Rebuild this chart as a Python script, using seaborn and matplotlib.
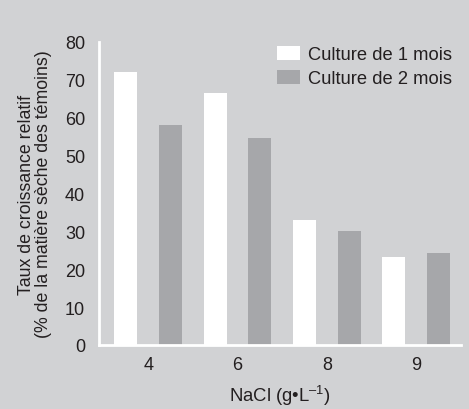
import pandas as pd
import matplotlib
matplotlib.use('Agg')
import matplotlib.pyplot as plt
import seaborn as sns

# Values
nacl = ["4", "6", "8", "9"]
culture_1_mois = [72.0, 66.5, 33.0, 23.2]
culture_2_mois = [58.0, 54.7, 30.1, 24.3]
series_names = ["Culture de 1 mois", "Culture de 2 mois"]
y_ticks = [0, 10, 20, 30, 40, 50, 60, 70, 80]

BG = "#d1d2d4"
GREY = "#a6a7aa"
TEXT = "#231f20"

df = pd.DataFrame({
    "NaCl": nacl * 2,
    "taux": culture_1_mois + culture_2_mois,
    "culture": [series_names[0]] * len(nacl) + [series_names[1]] * len(nacl),
})

sns.set_style("white")
plt.rcParams['font.family'] = ['Liberation Sans', 'DejaVu Sans']
plt.rcParams['mathtext.fontset'] = 'custom'
plt.rcParams['mathtext.rm'] = 'Liberation Sans'
plt.rcParams['text.color'] = TEXT

fig = plt.figure(figsize=(4.69, 4.10), dpi=100)
fig.patch.set_facecolor(BG)
ax = fig.add_axes([99 / 469, 64 / 410, 362 / 469, 303 / 410])
ax.set_facecolor(BG)

sns.barplot(data=df, x="NaCl", y="taux", hue="culture",
            palette=["white", GREY], saturation=1, width=1, gap=0.485,
            errorbar=None, linewidth=0, ax=ax)

ax.set_ylim(0, 80)
ax.set_xlim(-0.55, 3.5)
ax.set_yticks(y_ticks)
ax.tick_params(axis='y', colors='white', length=4, width=1.5, pad=6,
               labelsize=13, labelcolor=TEXT)
ax.tick_params(axis='x', which='major', length=0, pad=8, labelsize=13,
               labelcolor=TEXT)
ax.set_xticks([-0.55, 0.5, 1.5, 2.5], minor=True)
ax.tick_params(axis='x', which='minor', colors='white', length=5, width=1.5)

sns.despine(ax=ax)
for side in ["left", "bottom"]:
    ax.spines[side].set_color("white")
    ax.spines[side].set_linewidth(2)

ax.set_xlabel("NaCl (g•L$^{–1}$)", fontsize=13.3, color=TEXT, labelpad=7)
ax.set_ylabel("Taux de croissance relatif\n(% de la matière sèche des témoins)",
              fontsize=12.8, color=TEXT, linespacing=1.0)
ax.yaxis.set_label_coords(-0.13, 0.5)

ax.legend(loc="upper left", bbox_to_anchor=(277 / 469, 1 - 47 / 410),
          bbox_transform=fig.transFigure, frameon=False, fontsize=13.2,
          borderpad=0, borderaxespad=0, handlelength=1.27, handleheight=0.82,
          handletextpad=0.42, labelspacing=0.33)

fig.savefig("out.png", dpi=100, facecolor=BG)
plt.close(fig)
